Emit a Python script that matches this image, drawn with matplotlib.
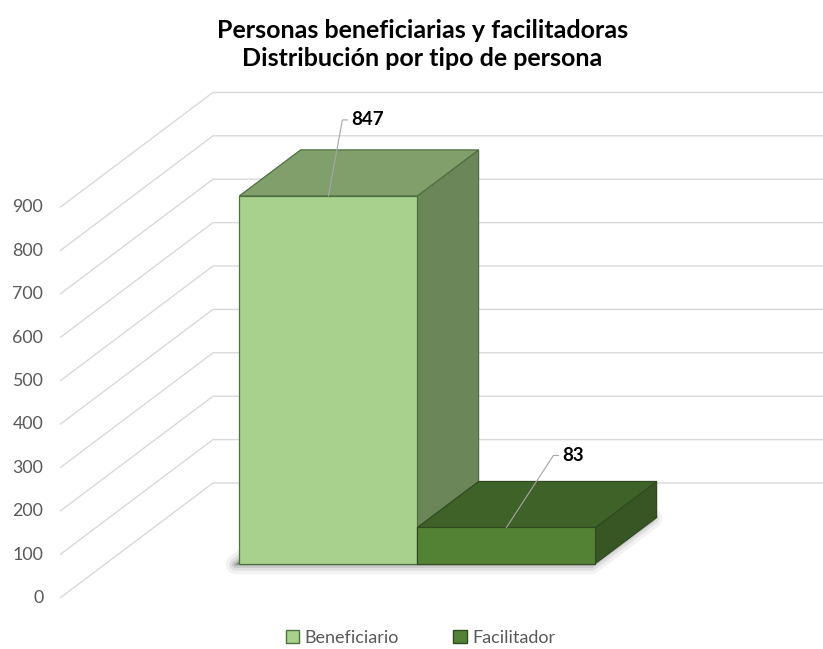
import matplotlib
matplotlib.use("Agg")
import matplotlib.pyplot as plt
from matplotlib.patches import Polygon, Patch

plt.rcParams['font.family'] = ['Lato', 'DejaVu Sans']

# ---- data ----
title_lines = ["Personas beneficiarias y facilitadoras", "Distribución por tipo de persona"]
series_names = ["Beneficiario", "Facilitador"]
values = [847, 83]
yticks = [0, 100, 200, 300, 400, 500, 600, 700, 800, 900]

# ---- styles ----
front_colors = ["#A9D18E", "#548235"]
top_colors = ["#809F6B", "#3F6229"]
side_colors = ["#6B8759", "#375623"]
edge_colors = ["#4F7040", "#2F4B1F"]
label_offsets_px = [(14, -76), (47, -72)]

W, H = 823, 649
PX_PER_VAL = 0.434
X0_PX, CAT_PX, Y0_PX = 60, 623, 598
DEPTH_DX_PX, DEPTH_DY_PX = 153, 115

fig = plt.figure(figsize=(W / 100, H / 100), dpi=100)
ax = fig.add_axes([0, 0, 1, 1])
ax.axis('off')
ax.set_xlim(-X0_PX / CAT_PX, (W - X0_PX) / CAT_PX)
ax.set_ylim(-(H - Y0_PX) / PX_PER_VAL, Y0_PX / PX_PER_VAL)

DX = DEPTH_DX_PX / CAT_PX
DY = DEPTH_DY_PX / PX_PER_VAL
xright = ax.get_xlim()[1]


def proj(x, v, t):
    return (x + t * DX, v + t * DY)


# gridlines (side wall + back wall)
for v in yticks:
    p0 = proj(0, v, 0)
    p1 = proj(0, v, 1)
    ax.plot([p0[0], p1[0], xright], [p0[1], p1[1], p1[1]],
            color="#D9D9D9", lw=1.0, zorder=1, solid_capstyle='butt')
    ax.annotate(str(v), xy=p0, xytext=(-12, 0), textcoords='offset points',
                ha='right', va='center', fontsize=12.8, color="#595959")

# bar geometry
n = len(values)
wb = 1.0 / (n + 1.5)
t0, t1 = 0.3, 0.7
xs0 = [0.75 * wb + i * wb for i in range(n)]

# soft shadow under footprint
fp = [proj(xs0[0], 0, t0), proj(xs0[-1] + wb, 0, t0),
      proj(xs0[-1] + wb, 0, t1), proj(xs0[0], 0, t1)]
sx_shift = -4 / CAT_PX
sy_shift = 1 / PX_PER_VAL
fp = [(x + sx_shift, y - sy_shift) for x, y in fp]
for lw, a in [(14, 0.06), (9, 0.09), (5, 0.12), (2, 0.15)]:
    ax.add_patch(Polygon(fp, closed=True, facecolor="#303030", edgecolor="#303030",
                         lw=lw, alpha=a, joinstyle='round', zorder=2))

for i, val in enumerate(values):
    x0, x1 = xs0[i], xs0[i] + wb
    front = [proj(x0, 0, t0), proj(x1, 0, t0), proj(x1, val, t0), proj(x0, val, t0)]
    top = [proj(x0, val, t0), proj(x1, val, t0), proj(x1, val, t1), proj(x0, val, t1)]
    side = [proj(x1, 0, t0), proj(x1, 0, t1), proj(x1, val, t1), proj(x1, val, t0)]
    z = 3 + i
    for poly, c in [(side, side_colors[i]), (top, top_colors[i]), (front, front_colors[i])]:
        ax.add_patch(Polygon(poly, closed=True, facecolor=c, edgecolor=edge_colors[i],
                             lw=0.9, joinstyle='miter', zorder=z))

    # data label with leader line
    sx, sy = proj(x0 + wb / 2, val, t0)
    ox, oy = label_offsets_px[i]
    ex, ey = sx + ox / CAT_PX, sy - oy / PX_PER_VAL
    hx = ex + 5 / CAT_PX
    ax.plot([sx, ex, hx], [sy, ey, ey], color="#A6A6A6", lw=0.8, zorder=10)
    ax.text(ex + 9 / CAT_PX, ey, str(val), ha='left', va='center',
            fontsize=13.5, fontweight='bold', color="#000000", zorder=10)

# title
fig.text(0.513, 1 - 31 / H, title_lines[0], ha='center', va='center',
         fontsize=18, fontweight='bold', color="#000000")
fig.text(0.513, 1 - 59 / H, title_lines[1], ha='center', va='center',
         fontsize=18, fontweight='bold', color="#000000")

# legend
handles = [Patch(facecolor=front_colors[i], edgecolor=edge_colors[i], lw=1.0,
                 label=series_names[i]) for i in range(n)]
fig.legend(handles=handles, loc='center', bbox_to_anchor=(0.511, 1 - 638 / H),
           ncol=2, frameon=False, fontsize=13, handlelength=0.75, handleheight=0.75,
           handletextpad=0.3, columnspacing=3.0, labelcolor="#595959")

fig.savefig("out.png", dpi=100)
